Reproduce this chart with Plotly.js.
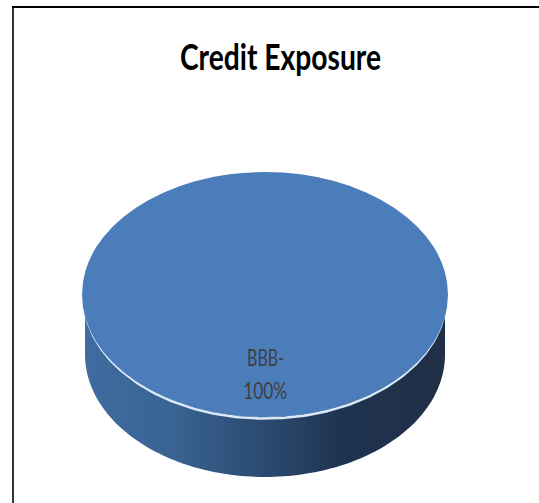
<!DOCTYPE html>
<html>
<head>
<meta charset="utf-8">
<script src="https://cdn.plot.ly/plotly-3.0.1.min.js"></script>
<style>html,body{margin:0;padding:0;background:#fff;overflow:hidden}</style>
</head>
<body>
<div id="chart" style="width:539px;height:503px"></div>
<script>
const chartTitle = "Credit Exposure";
const categories = ["BBB-"];
const shares = [100];
const sliceColors = ["#4c7dbb"];

const W = 539, H = 503;
const cx = 265, cy = 294.5, rx = 183, ry = 122.5, depth = 60;
const FONT = 'Lato,"Open Sans",sans-serif';

function arc(a0, a1, x0, y0, ax, ay, n) {
  const xs = [], ys = [];
  for (let i = 0; i <= n; i++) {
    const t = a0 + (a1 - a0) * i / n;
    xs.push(x0 + ax * Math.cos(t));
    ys.push(y0 + ay * Math.sin(t));
  }
  return [xs, ys];
}

// Wall of the drum: lower half of the top rim, then back along the bottom rim
const lo = arc(Math.PI, 0, cx, cy + depth, rx - 3, ry, 120);
const hi = arc(0, Math.PI, cx, cy, rx - 3, ry, 120);
const wall = {
  type: 'scatter', mode: 'none', hoverinfo: 'skip', showlegend: false,
  x: lo[0].concat(hi[0]), y: lo[1].concat(hi[1]), fill: 'toself',
  fillcolor: '#2c4a70',
  fillgradient: {type: 'horizontal', colorscale: [
    [0, '#3f6ca1'], [0.25, '#386392'], [0.5, '#2b4a70'], [0.72, '#1f3350'], [1, '#1f2f46']
  ]}
};
const rimPts = arc(Math.PI * 0.96, Math.PI * 0.04, cx, cy + 1.5, rx - 1.5, ry, 160);
const rim = {
  type: 'scatter', mode: 'lines', hoverinfo: 'skip', showlegend: false,
  x: rimPts[0], y: rimPts[1], line: {color: '#dbe9f7', width: 2.6}
};
const top3d = {
  type: 'pie', labels: categories, values: shares, sort: false,
  textinfo: 'none', hoverinfo: 'skip', showlegend: false,
  marker: {colors: sliceColors, line: {width: 0}},
  domain: {x: [(cx - rx) / W, (cx + rx) / W], y: [(H - cy - rx) / H, (H - cy + rx) / H]}
};

const total = shares.reduce((a, b) => a + b, 0);
const layout = {
  width: W, height: H, margin: {l: 0, r: 0, t: 0, b: 0},
  paper_bgcolor: '#fff', plot_bgcolor: '#fff', showlegend: false,
  title: {
    text: '<b>' + chartTitle + '</b>',
    font: {family: FONT, size: 37, color: '#000'},
    x: 280.5 / W, xanchor: 'center', xref: 'paper',
    y: 1 - 57.5 / H, yanchor: 'middle', yref: 'container'
  },
  xaxis: {range: [0, W], visible: false, fixedrange: true},
  yaxis: {range: [H, 0], visible: false, fixedrange: true},
  shapes: [
    {type: 'line', xref: 'x', yref: 'y', x0: 13, x1: 13, y0: 6, y1: H, line: {color: '#333', width: 2}},
    {type: 'line', xref: 'x', yref: 'y', x0: 12, x1: W, y0: 7, y1: 7, line: {color: '#000', width: 2}}
  ],
  annotations: [
    {x: 265, y: 357, text: categories[0], xref: 'x', yref: 'y', showarrow: false,
     font: {family: FONT, size: 23, color: '#404040'}},
    {x: 265, y: 390, text: Math.round(shares[0] / total * 100) + '%', xref: 'x', yref: 'y', showarrow: false,
     font: {family: FONT, size: 23, color: '#404040'}}
  ]
};

function squeeze(el, len) {
  el.setAttribute('textLength', len);
  el.setAttribute('lengthAdjust', 'spacingAndGlyphs');
}

Plotly.newPlot('chart', [wall, rim, top3d], layout, {displayModeBar: false, staticPlot: true}).then(function (gd) {
  // Tilt the flat pie into the drum's top face
  const k = ry / rx;
  gd.querySelectorAll('.pielayer').forEach(function (g) {
    g.setAttribute('transform', 'translate(0,' + cy + ') scale(1,' + k + ') translate(0,' + (-cy) + ')');
  });
  // The reference uses a condensed face: keep real text, fit it to the same width
  const t = gd.querySelector('.gtitle');
  if (t) squeeze(t, 201);
  const notes = gd.querySelectorAll('.annotation-text');
  if (notes[0]) squeeze(notes[0], 37);
  if (notes[1]) squeeze(notes[1], 44);
});
</script>
</body>
</html>
